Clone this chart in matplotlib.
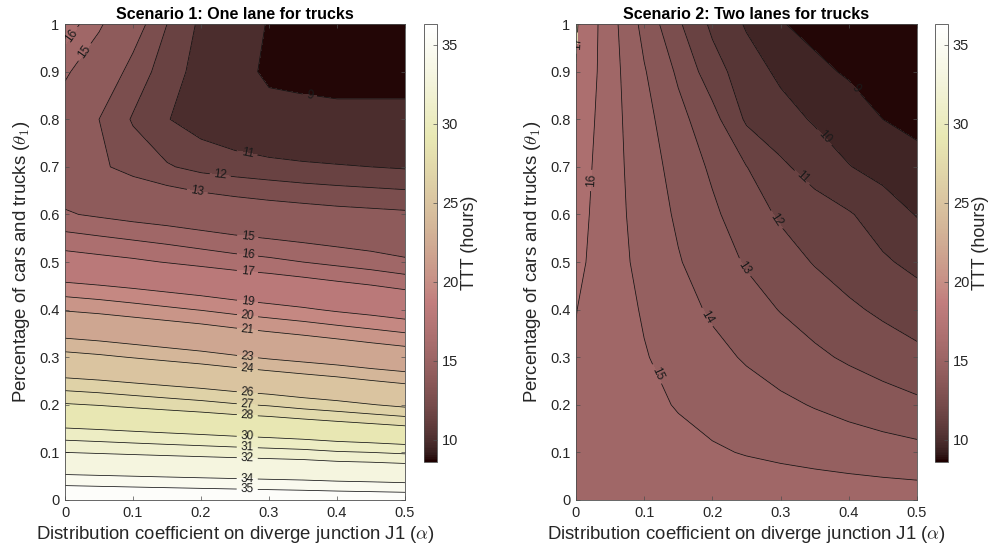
import numpy as np
import matplotlib.pyplot as plt
from matplotlib.colors import Normalize
from matplotlib.cm import ScalarMappable

plt.rcParams['font.family'] = ['Liberation Sans', 'DejaVu Sans']
plt.rcParams['mathtext.fontset'] = 'cm'

# distribution coefficient (columns) and share of cars/trucks (rows)
alpha = [0.0, 0.05, 0.1, 0.15, 0.2, 0.25, 0.3, 0.35, 0.4, 0.45, 0.5]
theta = [0.0, 0.1, 0.2, 0.3, 0.4, 0.5, 0.6, 0.7, 0.8, 0.9, 1.0]

# total travel time (hours), scenario 1: one lane for trucks
ttt_one_lane = [
    [36.3, 36.25, 36.2, 36.15, 36.1, 36.05, 36.0, 35.95, 35.9, 35.85, 35.8],
    [32.0, 31.9, 31.8, 31.7, 31.6, 31.5, 31.4, 31.3, 31.1, 31.0, 30.85],
    [28.1, 27.95, 27.75, 27.55, 27.35, 27.1, 26.9, 26.6, 26.35, 26.05, 25.75],
    [24.4, 24.2, 23.95, 23.7, 23.45, 23.15, 22.85, 22.6, 22.35, 22.05, 21.8],
    [20.9, 20.7, 20.45, 20.2, 19.95, 19.65, 19.4, 19.15, 18.85, 18.6, 18.3],
    [17.6, 17.4, 17.2, 16.95, 16.7, 16.45, 16.25, 16.0, 15.75, 15.5, 15.2],
    [15.1, 14.85, 14.6, 14.4, 14.15, 13.9, 13.7, 13.55, 13.4, 13.3, 13.2],
    [14.2, 13.2, 12.6, 12.1, 11.7, 11.5, 11.35, 11.2, 11.1, 11.0, 10.9],
    [14.2, 13.0, 11.9, 11.05, 10.5, 10.05, 9.6, 9.45, 9.3, 9.3, 9.3],
    [15.2, 14.0, 12.6, 11.5, 10.6, 9.6, 8.7, 8.6, 8.6, 8.6, 8.6],
    [16.6, 15.2, 13.6, 12.0, 10.8, 9.8, 8.9, 8.75, 8.7, 8.65, 8.64],
]

# scenario 2: two lanes for trucks
ttt_two_lanes = [
    [15.75, 15.73, 15.7, 15.68, 15.65, 15.62, 15.6, 15.58, 15.55, 15.52, 15.5],
    [15.8, 15.63, 15.45, 15.28, 15.1, 14.95, 14.82, 14.69, 14.56, 14.43, 14.3],
    [15.85, 15.54, 15.23, 14.94, 14.69, 14.44, 14.19, 13.94, 13.69, 13.44, 13.2],
    [15.93, 15.5, 15.06, 14.67, 14.28, 13.9, 13.55, 13.19, 12.86, 12.55, 12.25],
    [16.02, 15.46, 14.91, 14.37, 13.86, 13.4, 12.96, 12.57, 12.17, 11.82, 11.5],
    [16.25, 15.4, 14.72, 14.07, 13.48, 12.91, 12.42, 11.94, 11.54, 11.13, 10.75],
    [16.4, 15.38, 14.59, 13.85, 13.18, 12.47, 11.87, 11.48, 11.09, 10.54, 9.95],
    [16.55, 15.38, 14.47, 13.63, 12.84, 12.02, 11.18, 10.58, 10.04, 9.65, 9.25],
    [16.75, 15.39, 14.32, 13.31, 12.36, 10.85, 10.37, 9.9, 9.45, 9.0, 8.8],
    [16.98, 15.41, 14.08, 12.84, 11.43, 10.46, 9.81, 9.2, 8.9, 8.78, 8.7],
    [17.1, 15.4, 13.7, 12.15, 10.8, 9.9, 9.05, 8.75, 8.68, 8.65, 8.64],
]

levels_one = [9, 11, 12, 13, 15, 16, 17, 19, 20, 21, 23, 24, 26, 27, 28, 30, 31, 32, 34, 35]
levels_two = [9, 10, 11, 12, 13, 14, 15, 16, 17]

# where the contour labels sit (alpha, theta)
labels_one = [(0.36, 0.851), (0.268, 0.729), (0.228, 0.679), (0.194, 0.645),
              (0.268, 0.546), (0.268, 0.51), (0.268, 0.477), (0.268, 0.414),
              (0.268, 0.382), (0.268, 0.355), (0.268, 0.298), (0.268, 0.275),
              (0.268, 0.225), (0.268, 0.2), (0.268, 0.176), (0.268, 0.132),
              (0.268, 0.109), (0.268, 0.088), (0.268, 0.048), (0.268, 0.027),
              (0.019, 0.966), (0.03, 0.94)]
labels_two = [(0.003, 0.96), (0.015, 0.672), (0.116, 0.263), (0.19, 0.382),
              (0.245, 0.487), (0.289, 0.584), (0.328, 0.672), (0.365, 0.763),
              (0.399, 0.851)]

titles = ['Scenario 1: One lane for trucks', 'Scenario 2: Two lanes for trucks']

A, T = np.meshgrid(alpha, theta)
Z1 = np.array(ttt_one_lane)
Z2 = np.array(ttt_two_lanes)
zmin = min(Z1.min(), Z2.min())
zmax = max(Z1.max(), Z2.max())
cmap = plt.get_cmap('pink')
norm = Normalize(zmin, zmax)
ink = '#262626'

fig = plt.figure(figsize=(9.93, 5.54), dpi=100)
ax_pos = [[0.0655, 0.0975, 0.3424, 0.859], [0.58, 0.0975, 0.3434, 0.859]]
cb_pos = [[0.427, 0.166, 0.0131, 0.7906], [0.9416, 0.166, 0.0131, 0.7906]]

for i, (Z, levels, manual) in enumerate([(Z1, levels_one, labels_one),
                                          (Z2, levels_two, labels_two)]):
    ax = fig.add_axes(ax_pos[i])
    bounds = [zmin - 0.01] + levels + [zmax + 0.01]
    ax.contourf(A, T, Z, levels=bounds, cmap=cmap, norm=norm)
    cs = ax.contour(A, T, Z, levels=levels, colors='#111111', linewidths=0.55)
    ax.clabel(cs, manual=manual, fmt='%d', fontsize=8.5, inline=True,
              inline_spacing=4, colors='#1a1a1a')

    ax.set_xlim(0, 0.5)
    ax.set_ylim(0, 1)
    ax.set_xticks([0, 0.1, 0.2, 0.3, 0.4, 0.5])
    ax.set_xticklabels(['0', '0.1', '0.2', '0.3', '0.4', '0.5'])
    ax.set_yticks(np.arange(0, 1.01, 0.1))
    ax.set_yticklabels(['0', '0.1', '0.2', '0.3', '0.4', '0.5', '0.6', '0.7',
                        '0.8', '0.9', '1'])
    ax.tick_params(direction='in', length=3, width=0.5, top=True, right=True,
                   labelsize=10.5, colors='#4d4d4d', labelcolor=ink, pad=4)
    for s in ax.spines.values():
        s.set_color('#4d4d4d')
        s.set_linewidth(0.6)
    ax.set_title(titles[i], fontsize=11.5, fontweight='bold', color='k', pad=4)
    ax.set_xlabel(r'Distribution coefficient on diverge junction J1 ($\alpha$)',
                  fontsize=13.4, color=ink, labelpad=3)
    ax.set_ylabel(r'Percentage of cars and trucks ($\theta_1$)', fontsize=13.4,
                  color=ink, labelpad=5)

    cax = fig.add_axes(cb_pos[i])
    cb = fig.colorbar(ScalarMappable(norm=norm, cmap=cmap), cax=cax)
    cb.set_ticks([10, 15, 20, 25, 30, 35])
    cb.ax.tick_params(direction='in', length=3, width=0.5, labelsize=10.5,
                      colors='#4d4d4d', labelcolor=ink)
    cb.outline.set_edgecolor('#4d4d4d')
    cb.outline.set_linewidth(0.6)
    cb.set_label('TTT (hours)', fontsize=13, color=ink, labelpad=2)

fig.savefig('out.png', dpi=100)
